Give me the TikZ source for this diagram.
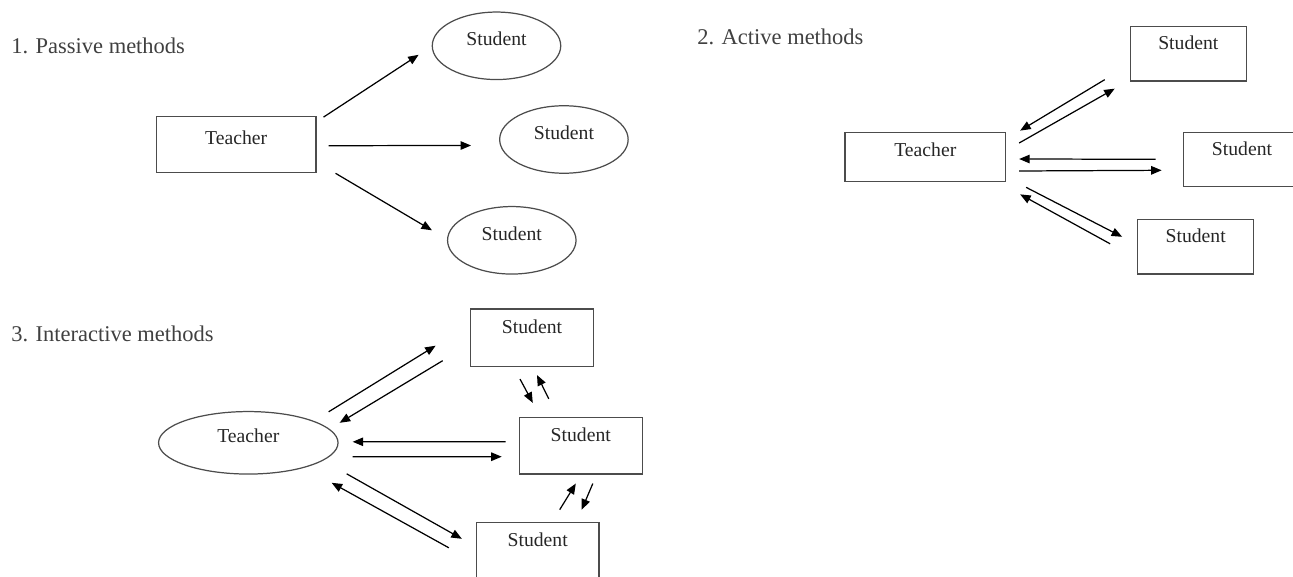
\documentclass[tikz,border=0pt]{standalone}
\usepackage{fontspec}
\setmainfont{Liberation Serif}
\usetikzlibrary{arrows.meta,shapes.geometric}
\begin{document}
\begin{tikzpicture}[x=0.02cm,y=-0.02cm,line width=0.7pt,>={Triangle[length=0.21cm,width=0.17cm]},
    title node/.style={anchor=base west,inner sep=0pt,text=black!75,font=\fontsize{12.8}{15}\selectfont},
    main node/.style={draw=black!70,inner sep=0pt,text=black!85,font=\fontsize{11.2}{13}\selectfont,text height=8pt,text depth=8pt},
    teacher box/.style={main node,rectangle},
    student oval/.style={main node,ellipse,minimum width=2.57cm,minimum height=1.35cm},
    student box/.style={main node,rectangle,text depth=12.5pt}]
        \clip (0,0) rectangle (1293,577);

        \node[title node] at (10.7,53.3) (p1) {1. Passive methods};
        \node[title node] at (696.7,45) (p2) {2. Active methods};
        \node[title node] at (10.7,341.7) (p3) {3. Interactive methods};

        \node[teacher box, minimum width=3.19cm, minimum height=1.12cm] at (236.2,144.7) (t1) {Teacher};
        \node[student oval] at (496.5,45.8) (s1a) {Student};
        \node[student oval] at (563.9,139.5) (s1b) {Student};
        \node[student oval] at (511.8,240.3) (s1c) {Student};

        \node[teacher box, minimum width=3.21cm, minimum height=0.99cm] at (925.3,157) (t2) {Teacher};
        \node[student box, minimum width=2.32cm, minimum height=1.09cm] at (1188.3,53.8) (s2a) {Student};
        \node[student box, minimum width=2.35cm, minimum height=1.08cm] at (1242,159.3) (s2b) {Student};
        \node[student box, minimum width=2.32cm, minimum height=1.09cm] at (1195.7,246.8) (s2c) {Student};

        \node[main node, ellipse, minimum width=3.59cm, minimum height=1.25cm] at (248.3,442.8) (t3) {Teacher};
        \node[student box, minimum width=2.47cm, minimum height=1.15cm] at (532,337.7) (s3a) {Student};
        \node[student box, minimum width=2.46cm, minimum height=1.13cm] at (580.8,445.7) (s3b) {Student};
        \node[student box, minimum width=2.45cm, minimum height=1.14cm] at (537.7,550.8) (s3c) {Student};

        \path[->]
            ([shift={(7,1)}]t1.north east) edge ([shift={(-13,9)}]s1a.west)
            ([shift={(12,1)}]t1.east) edge ([shift={(-28,6)}]s1b.west)
            ([shift={(19,0)}]t1.south east) edge ([shift={(-15,-10)}]s1c.west)
            ([shift={(-25,-2)}]s2a.south west) edge ([shift={(14,-1)}]t2.north east)
            ([shift={(13,-14)}]t2.east) edge ([shift={(-15,7)}]s2a.south west)
            ([shift={(-27,0)}]s2b.west) edge ([shift={(13,2)}]t2.east)
            ([shift={(13,14)}]t2.east) edge ([shift={(-21,11)}]s2b.west)
            ([shift={(20,5)}]t2.south east) edge ([shift={(-15,-10)}]s2c.west)
            ([shift={(-27,-3)}]s2c.west) edge ([shift={(14,12)}]t2.south east)
            ([shift={(-10,-31)}]t3.east) edge ([shift={(-34,8)}]s3a.west)
            ([shift={(-27,23)}]s3a.west) edge ([shift={(1,-20)}]t3.east)
            ([shift={(-13,-4)}]s3b.west) edge ([shift={(14,-1)}]t3.east)
            ([shift={(14,14)}]t3.east) edge ([shift={(-17,11)}]s3b.west)
            ([shift={(8,31)}]t3.east) edge ([shift={(-14,-12)}]s3c.west)
            ([shift={(-27,-3)}]s3c.west) edge ([shift={(-7,40)}]t3.east)
            ([shift={(-12,12)}]s3a.south) edge ([shift={(-48,-14)}]s3b.north)
            ([shift={(-32,-18)}]s3b.north) edge ([shift={(5,8)}]s3a.south)
            ([shift={(22,-12)}]s3c.north) edge ([shift={(-5,9)}]s3b.south)
            ([shift={(12,9)}]s3b.south) edge ([shift={(44,-12)}]s3c.north)
            ;
\end{tikzpicture}
\end{document}
